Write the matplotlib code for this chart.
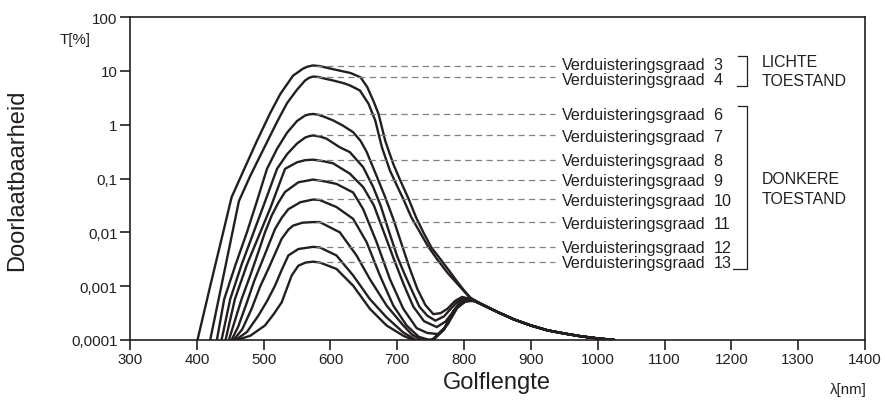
import matplotlib
matplotlib.use("Agg")
import matplotlib.pyplot as plt

plt.rcParams['font.family'] = ['Liberation Sans', 'DejaVu Sans']

# transmission curves, T in %
nm_3 = [401, 420, 440, 452, 470, 490, 510, 525, 544, 559, 566, 574, 585, 600, 630, 645, 655, 665,
        672, 682, 694, 705, 717, 728, 739, 751, 764, 778, 790, 800, 810]
t_3 = [0.0001, 0.001, 0.0107, 0.0447, 0.141, 0.501, 1.66, 3.72, 8.13, 11.0, 12.0, 12.6, 12.2, 11.0,
       9.12, 7.59, 5.01, 2.63, 1.58, 0.501, 0.186, 0.0891, 0.0417, 0.0191, 0.01, 0.00525, 0.00324,
       0.00191, 0.0012, 0.000832, 0.000603]

nm_4 = [420, 440, 452, 463, 480, 500, 520, 535, 550, 562, 568, 574, 582, 590, 604, 620, 629, 644,
        657, 667, 677, 689, 699, 709, 721, 734, 746, 759, 775, 791, 809]
t_4 = [0.0001, 0.00158, 0.00832, 0.038, 0.112, 0.355, 1.12, 2.51, 4.47, 6.61, 7.41, 7.83, 7.67, 7.24,
       6.61, 5.89, 5.37, 4.32, 2.45, 1.20, 0.380, 0.141, 0.0759, 0.0417, 0.0191, 0.01, 0.0055,
       0.00324, 0.00178, 0.00107, 0.000603]

nm_6 = [430, 441, 458, 475, 490, 505, 520, 535, 550, 562, 568, 574, 582, 590, 604, 619, 634, 645,
        654, 669, 682, 694, 706, 718, 730, 742, 754, 765, 775, 787, 797, 810]
t_6 = [0.0001, 0.000575, 0.00251, 0.01, 0.038, 0.151, 0.355, 0.708, 1.17, 1.48, 1.55, 1.58, 1.53,
       1.41, 1.20, 0.955, 0.724, 0.501, 0.316, 0.112, 0.0447, 0.0178, 0.00631, 0.00224, 0.000891,
       0.000447, 0.000302, 0.000316, 0.00038, 0.000537, 0.000631, 0.000575]

nm_7 = [437, 450, 467, 485, 500, 520, 535, 550, 562, 568, 574, 584, 594, 614, 629, 649, 664, 675,
        688, 700, 710, 719, 733, 745, 757, 770, 780, 790, 800, 812]
t_7 = [0.0001, 0.000575, 0.00251, 0.01, 0.0316, 0.151, 0.282, 0.447, 0.575, 0.61, 0.631, 0.603,
       0.55, 0.38, 0.309, 0.162, 0.0692, 0.0316, 0.01, 0.00355, 0.00178, 0.001, 0.000417, 0.000282,
       0.000229, 0.000275, 0.00038, 0.000513, 0.000603, 0.00055]

nm_8 = [443, 457, 475, 495, 510, 532, 550, 562, 574, 590, 604, 629, 649, 665, 680, 695, 710, 724,
        740, 759, 772, 782, 792, 803, 815]
t_8 = [0.0001, 0.000575, 0.00251, 0.01, 0.0282, 0.151, 0.20, 0.219, 0.224, 0.209, 0.191, 0.123,
       0.0692, 0.0316, 0.01, 0.00316, 0.00105, 0.000417, 0.000224, 0.000174, 0.000219, 0.000316,
       0.000479, 0.000589, 0.000537]

nm_9 = [448, 467, 480, 492, 502, 512, 522, 532, 552, 574, 590, 609, 634, 649, 669, 689, 709, 729,
        745, 761, 775, 790, 805, 818]
t_9 = [0.0001, 0.000575, 0.00158, 0.00427, 0.01, 0.0204, 0.0355, 0.0562, 0.0851, 0.0955, 0.0891,
       0.0794, 0.055, 0.0269, 0.00661, 0.00135, 0.00038, 0.000166, 0.000135, 0.000129, 0.000191,
       0.000398, 0.00055, 0.000513]

nm_10 = [452, 462, 475, 486, 497, 507, 517, 527, 537, 555, 574, 584, 609, 634, 654, 674, 694, 714,
         732, 748, 756, 770, 785, 800, 815]
t_10 = [0.0001, 0.000178, 0.000501, 0.00126, 0.00275, 0.00562, 0.0115, 0.0186, 0.0269, 0.0363,
        0.0407, 0.0398, 0.0295, 0.0178, 0.00661, 0.00158, 0.000437, 0.000186, 0.000115, 0.0001,
        0.000105, 0.000158, 0.000355, 0.000525, 0.000537]

nm_11 = [455, 468, 482, 495, 507, 517, 527, 537, 544, 558, 574, 584, 614, 639, 659, 684, 709, 722,
         736, 752, 770, 785, 800, 815]
t_11 = [0.0001, 0.000158, 0.00038, 0.001, 0.00209, 0.00398, 0.00759, 0.0112, 0.0133, 0.0151,
        0.0155, 0.0155, 0.01, 0.00372, 0.00135, 0.000437, 0.000186, 0.000126, 0.0001, 0.0001,
        0.000158, 0.000355, 0.000525, 0.000537]

nm_12 = [458, 475, 492, 505, 517, 527, 537, 552, 574, 584, 609, 634, 659, 684, 709, 728, 752, 770,
         785, 800, 815]
t_12 = [0.0001, 0.000141, 0.000282, 0.000525, 0.00102, 0.002, 0.00372, 0.0049, 0.00537, 0.00525,
        0.00372, 0.00158, 0.000575, 0.000263, 0.000138, 0.0001, 0.0001, 0.000158, 0.000355,
        0.000525, 0.000537]

nm_13 = [460, 480, 502, 515, 527, 542, 552, 563, 574, 584, 609, 634, 659, 684, 709, 724, 752, 770,
         785, 800, 815]
t_13 = [0.0001, 0.00012, 0.000186, 0.000302, 0.000501, 0.00158, 0.0024, 0.00275, 0.00285, 0.00275,
        0.00209, 0.00102, 0.00038, 0.000186, 0.00012, 0.0001, 0.0001, 0.000158, 0.000355, 0.000525,
        0.000537]

# common long-wave tail
tail_nm = [830, 850, 875, 900, 925, 950, 975, 1000, 1025]
tail_t = [0.000437, 0.000331, 0.00024, 0.000186, 0.000151, 0.000132, 0.000117, 0.000107, 0.0001]

grades = [3, 4, 6, 7, 8, 9, 10, 11, 12, 13]
curves_nm = [nm_3, nm_4, nm_6, nm_7, nm_8, nm_9, nm_10, nm_11, nm_12, nm_13]
curves_t = [t_3, t_4, t_6, t_7, t_8, t_9, t_10, t_11, t_12, t_13]

# peak levels where the leader lines sit
peak_t = [12.5, 7.8, 1.59, 0.63, 0.224, 0.095, 0.041, 0.0154, 0.0054, 0.00285]

yticks = [0.0001, 0.001, 0.01, 0.1, 1, 10, 100]
ytick_labels = ['0,0001', '0,001', '0,01', '0,1', '1', '10', '100']
xticks = list(range(300, 1401, 100))

ink = '#231f20'

fig = plt.figure(figsize=(8.85, 4.06), dpi=100)
ax = fig.add_axes([130 / 885, 1 - 341 / 406, 735 / 885, 323 / 406])

for xs, ts in zip(curves_nm, curves_t):
    ax.plot(xs + tail_nm, ts + tail_t, color=ink, lw=1.7, solid_joinstyle='round',
            solid_capstyle='round')

# dashed leader lines + labels
label_dy = {3: 1.5, 4: -1.5}
for g, p in zip(grades, peak_t):
    ax.plot([578, 936], [p, p], color='#808080', lw=0.9, dashes=(5, 3.5))
    dy = label_dy.get(g, 0) - 4.0
    ax.annotate('Verduisteringsgraad', (947, p), xytext=(0, dy), textcoords='offset points',
                va='baseline', ha='left', fontsize=11.6, color=ink)
    ax.annotate(str(g), (1173, p), xytext=(0, dy), textcoords='offset points',
                va='baseline', ha='left', fontsize=11.6, color=ink)

# brackets
bk = dict(color=ink, lw=0.9, clip_on=False)
ax.plot([1210, 1224, 1224, 1208], [19.2, 19.2, 5.33, 5.33], **bk)
ax.plot([1210, 1224, 1224, 1203], [2.26, 2.26, 0.00209, 0.00209], **bk)
ax.text(1246, 14.9, 'LICHTE', fontsize=11.4, va='center', color=ink)
ax.text(1246, 6.6, 'TOESTAND', fontsize=11.4, va='center', color=ink)
ax.text(1246, 0.0985, 'DONKERE', fontsize=11.4, va='center', color=ink)
ax.text(1246, 0.0417, 'TOESTAND', fontsize=11.4, va='center', color=ink)

ax.set_yscale('log')
ax.set_ylim(0.0001, 100)
ax.set_xlim(300, 1400)
ax.set_yticks(yticks)
ax.set_yticklabels(ytick_labels)
ax.minorticks_off()
ax.set_xticks(xticks)
ax.tick_params(direction='out', length=7, width=1.2, pad=2, labelsize=10.8, colors=ink)
for s in ax.spines.values():
    s.set_linewidth(1.2)
    s.set_color(ink)

fig.text(17 / 885, 1 - 180 / 406, 'Doorlaatbaarheid', fontsize=17, rotation=90,
         ha='center', va='center', color=ink)
fig.text(497 / 885, 1 - 383 / 406, 'Golflengte', fontsize=17, ha='center', va='center',
         color=ink)
fig.text(75 / 885, 1 - 40 / 406, 'T[%]', fontsize=10.8, ha='center', va='center', color=ink)
fig.text(848 / 885, 1 - 390 / 406, 'λ[nm]', fontsize=10.8, ha='center', va='center', color=ink)

fig.savefig('out.png', dpi=100)
